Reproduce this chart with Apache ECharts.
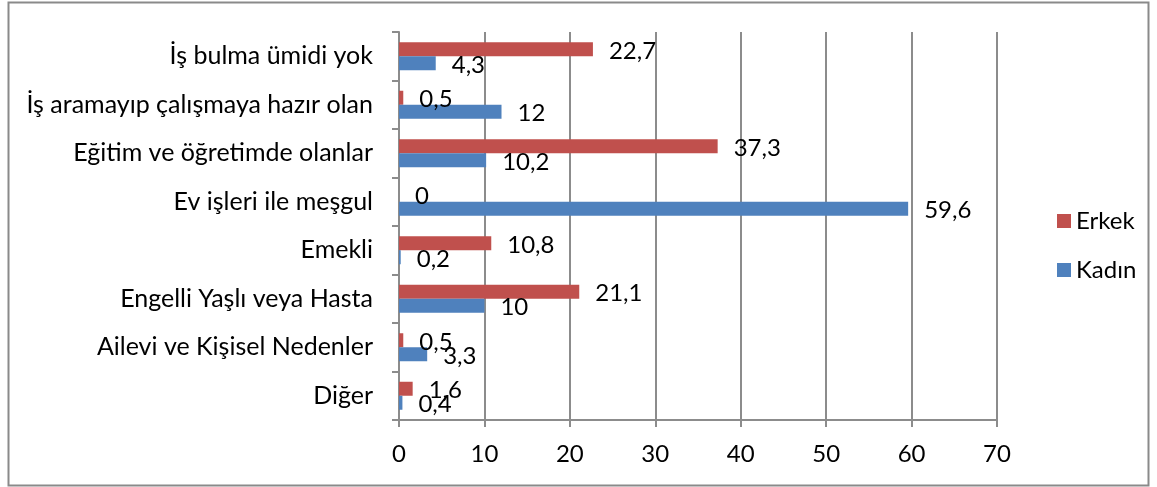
<!DOCTYPE html>
<html>
<head>
<meta charset="utf-8">
<script src="https://cdn.jsdelivr.net/npm/echarts@6/dist/echarts.min.js"></script>
<style>
html, body { margin: 0; padding: 0; background: #fff; }
#chart { width: 1157px; height: 487px; }
</style>
</head>
<body>
<div id="chart"></div>
<script>
var categories = ['İş bulma ümidi yok', 'İş aramayıp çalışmaya hazır olan', 'Eğitim ve öğretimde olanlar',
	'Ev işleri ile meşgul', 'Emekli', 'Engelli Yaşlı veya Hasta', 'Ailevi ve Kişisel Nedenler', 'Diğer'];
var erkek = [22.7, 0.5, 37.3, 0, 10.8, 21.1, 0.5, 1.6];
var kadin = [4.3, 12, 10.2, 59.6, 0.2, 10, 3.3, 0.4];

var font = 'Lato, "Open Sans", sans-serif';
var gray = '#8c8c8c';

function commaLabel(p) {
	return String(p.value).replace('.', ',');
}

var myChart = echarts.init(document.getElementById('chart'));
myChart.setOption({
	animation: false,
	textStyle: { fontFamily: font },
	grid: { left: 399, right: 160, top: 32, bottom: 67 },
	graphic: [{
		type: 'rect',
		shape: { x: 8.5, y: 2.5, width: 1140, height: 483 },
		style: { fill: 'none', stroke: '#8a8a8a', lineWidth: 2 },
		silent: true
	}],
	legend: {
		data: ['Erkek', 'Kadın'],
		orient: 'vertical',
		left: 1052,
		top: 204,
		itemWidth: 14,
		itemHeight: 14,
		itemGap: 25,
		icon: 'rect',
		textStyle: { fontFamily: font, fontSize: 24, lineHeight: 24, color: '#000' }
	},
	xAxis: [{
		type: 'value',
		min: 0,
		max: 70,
		interval: 10,
		axisLine: { show: true, lineStyle: { color: gray, width: 2 } },
		axisTick: { show: true, length: 7, lineStyle: { color: gray, width: 2 } },
		axisLabel: { color: '#000', fontSize: 24, fontFamily: font, margin: 22 },
		splitLine: { show: true, lineStyle: { color: gray, width: 2 } }
	}],
	yAxis: [{
		type: 'category',
		inverse: true,
		data: categories,
		axisLine: { show: true, lineStyle: { color: gray, width: 2 } },
		axisTick: { show: true, length: 7, lineStyle: { color: gray, width: 2 } },
		axisLabel: { color: '#000', fontSize: 25, fontFamily: font, margin: 26 }
	}],
	series: [{
		name: 'Erkek',
		type: 'bar',
		data: erkek,
		barWidth: 14,
		barGap: '0%',
		itemStyle: { color: '#C0504D' },
		label: {
			show: true, position: 'right', distance: 16, offset: [0, 2],
			formatter: commaLabel, color: '#000', fontSize: 24, fontFamily: font
		}
	}, {
		name: 'Kadın',
		type: 'bar',
		data: kadin,
		barWidth: 14,
		barGap: '0%',
		itemStyle: { color: '#4F81BD' },
		label: {
			show: true, position: 'right', distance: 16, offset: [0, 2],
			formatter: commaLabel, color: '#000', fontSize: 24, fontFamily: font
		}
	}]
});
</script>
</body>
</html>
